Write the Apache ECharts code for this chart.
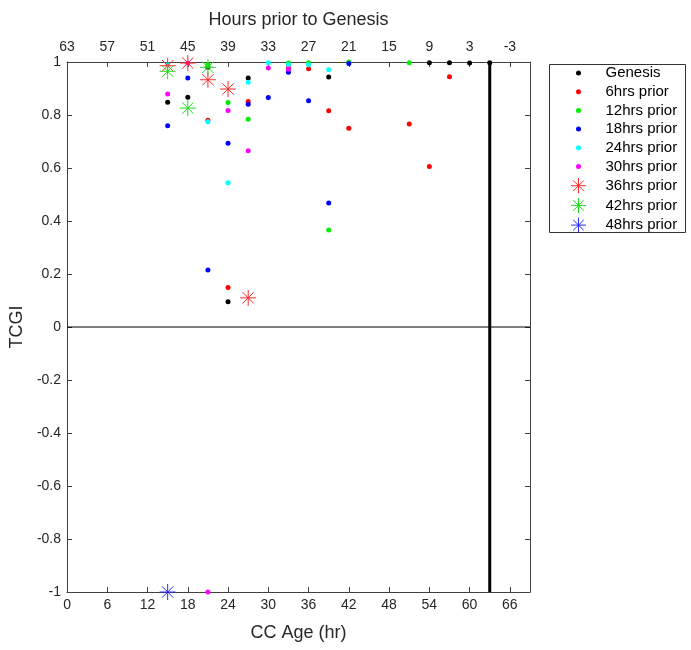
<!DOCTYPE html>
<html>
<head>
<meta charset="utf-8">
<script src="https://cdn.jsdelivr.net/npm/echarts@6/dist/echarts.min.js"></script>
<style>
  html, body { margin: 0; padding: 0; background: #fff; }
  #chart { width: 691px; height: 650px; }
</style>
</head>
<body>
<div id="chart"></div>
<script>
// CC age (hr) vs TCGI, one list of [age, TCGI] pairs per lead time
const genesis   = [[15,0.848],[18,0.867],[21,0.98],[24,0.095],[27,0.94],[39,0.943],[54,0.997],[57,0.997],[60,0.996],[63,0.997]];
const prior6    = [[21,0.78],[24,0.149],[27,0.851],[33,0.98],[36,0.975],[39,0.816],[42,0.75],[51,0.766],[54,0.606],[57,0.944]];
const prior12   = [[21,0.99],[24,0.847],[27,0.784],[33,0.996],[36,0.997],[39,0.366],[42,1.0],[51,0.997]];
const prior18   = [[15,0.759],[18,0.94],[21,0.215],[24,0.693],[27,0.841],[30,0.866],[33,0.961],[36,0.854],[39,0.468],[42,0.994]];
const prior24   = [[15,0.99],[21,0.775],[24,0.544],[27,0.924],[30,0.997],[33,0.99],[36,0.99],[39,0.971]];
const prior30   = [[15,0.879],[18,0.996],[21,-1],[24,0.817],[27,0.665],[30,0.977],[33,0.973]];
const prior36   = [[15,0.986],[18,0.996],[21,0.933],[24,0.898],[27,0.11]];
const prior42   = [[15,0.965],[18,0.826],[21,0.98]];
const prior48   = [[15,-1]];

const seriesNames = ['Genesis','6hrs prior','12hrs prior','18hrs prior','24hrs prior','30hrs prior','36hrs prior','42hrs prior','48hrs prior'];
const seriesData  = [genesis, prior6, prior12, prior18, prior24, prior30, prior36, prior42, prior48];
const seriesColors = ['#000000','#ff0000','#00ee00','#0000ff','#00ffff','#ff00ff','#ff2a2a','#22dd22','#2a2aff'];
const starSeries = [false,false,false,false,false,false,true,true,true];

// reference lines: zero TCGI and genesis time
const zeroLine = [[0,0],[69,0]];
const genesisLine = [[63,-1],[63,1]];

const FONT = 'Liberation Sans, Arial, sans-serif';
const AXIS_COLOR = '#404040';
const TEXT_COLOR = '#262626';

const starPath = 'path://M0,-7.5 L0,7.5 M-7.5,0 L7.5,0 M-5.3,-5.3 L5.3,5.3 M-5.3,5.3 L5.3,-5.3';
const starLegend = 'path://M-22,-9 M22,9 M0,-7.5 L0,7.5 M-7.5,0 L7.5,0 M-5.3,-5.3 L5.3,5.3 M-5.3,5.3 L5.3,-5.3';
const dotLegend = 'path://M-22,-9 M22,9 M-2.5,0 A2.5,2.5 0 1 0 2.5,0 A2.5,2.5 0 1 0 -2.5,0 Z';

const series = [
  {
    type: 'line', data: zeroLine, symbol: 'none', silent: true, z: 1,
    lineStyle: { color: '#000', width: 1 }
  },
  {
    type: 'line', data: genesisLine, symbol: 'none', silent: true, z: 1,
    lineStyle: { color: '#000', width: 3 }
  }
];
seriesNames.forEach((name, i) => {
  const star = starSeries[i];
  series.push({
    name: name,
    type: 'scatter',
    data: seriesData[i],
    symbol: star ? starPath : 'circle',
    symbolSize: star ? 16 : 5,
    itemStyle: star
      ? { color: 'rgba(0,0,0,0)', borderColor: seriesColors[i], borderWidth: 1, opacity: 1 }
      : { color: seriesColors[i], opacity: 1 },
    z: 2 + i
  });
});

const legendData = seriesNames.map((name, i) => ({
  name: name,
  icon: starSeries[i] ? starLegend : dotLegend,
  itemStyle: starSeries[i]
    ? { color: 'rgba(0,0,0,0)', borderColor: seriesColors[i], borderWidth: 1, opacity: 1 }
    : { color: seriesColors[i], borderWidth: 0, opacity: 1 }
}));

const yFmt = v => String(Math.round(v * 10) / 10);

const option = {
  animation: false,
  backgroundColor: '#fff',
  textStyle: { fontFamily: FONT },
  grid: { left: 66, right: 161, top: 62, bottom: 58, containLabel: false },
  xAxis: [
    {
      type: 'value', position: 'bottom', min: 0, max: 69, interval: 6,
      name: 'CC Age (hr)', nameLocation: 'middle', nameGap: 32,
      nameTextStyle: { fontSize: 18, color: TEXT_COLOR, fontFamily: FONT },
      axisLine: { show: true, onZero: false, lineStyle: { color: AXIS_COLOR } },
      axisTick: { show: true, inside: true, length: 5, lineStyle: { color: AXIS_COLOR } },
      axisLabel: { fontSize: 14, color: TEXT_COLOR, fontFamily: FONT, margin: 6, showMaxLabel: false },
      splitLine: { show: false }
    },
    {
      type: 'value', position: 'top', min: 0, max: 69, interval: 6,
      name: 'Hours prior to Genesis', nameLocation: 'middle', nameGap: 33,
      nameTextStyle: { fontSize: 18, color: TEXT_COLOR, fontFamily: FONT },
      axisLine: { show: true, onZero: false, lineStyle: { color: AXIS_COLOR } },
      axisTick: { show: true, inside: true, length: 5, lineStyle: { color: AXIS_COLOR } },
      axisLabel: { fontSize: 14, color: TEXT_COLOR, fontFamily: FONT, margin: 8, showMaxLabel: false,
                   formatter: v => String(63 - v) },
      splitLine: { show: false }
    }
  ],
  yAxis: [
    {
      type: 'value', position: 'left', min: -1, max: 1, interval: 0.2,
      name: 'TCGI', nameLocation: 'middle', nameGap: 38, nameRotate: 90,
      nameTextStyle: { fontSize: 18, color: TEXT_COLOR, fontFamily: FONT },
      axisLine: { show: true, onZero: false, lineStyle: { color: AXIS_COLOR } },
      axisTick: { show: true, inside: true, length: 5, lineStyle: { color: AXIS_COLOR } },
      axisLabel: { fontSize: 14, color: TEXT_COLOR, fontFamily: FONT, margin: 6, formatter: yFmt },
      splitLine: { show: false }
    },
    {
      type: 'value', position: 'right', min: -1, max: 1, interval: 0.2,
      axisLine: { show: true, onZero: false, lineStyle: { color: AXIS_COLOR } },
      axisTick: { show: true, inside: true, length: 5, lineStyle: { color: AXIS_COLOR } },
      axisLabel: { show: false },
      splitLine: { show: false }
    }
  ],
  legend: {
    orient: 'vertical', left: 556, top: 64, padding: 0,
    itemWidth: 44, itemHeight: 18, itemGap: 0.7,
    selectedMode: false,
    textStyle: { fontSize: 15, color: '#000', fontFamily: FONT },
    data: legendData
  },
  graphic: [
    {
      type: 'rect', left: 547, top: 62, silent: true,
      shape: { width: 136, height: 168 },
      style: { fill: 'none', stroke: '#333', lineWidth: 1 }
    }
  ],
  series: series
};

const chart = echarts.init(document.getElementById('chart'), null, { renderer: 'canvas' });
chart.setOption(option);
</script>
</body>
</html>
